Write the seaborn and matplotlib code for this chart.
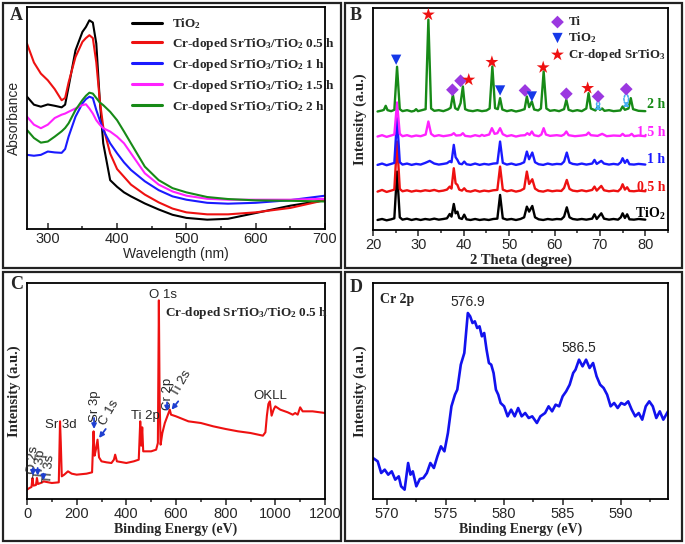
import numpy as np
import pandas as pd
import seaborn as sns
import matplotlib.pyplot as plt
from matplotlib.patches import Rectangle
from matplotlib.ticker import MultipleLocator

# ---------------- A: UV-vis absorbance ----------------
wl = [270, 280, 290, 300, 310, 320, 325, 330, 340, 350, 355, 360, 365, 370, 375,
      380, 390, 400, 410, 420, 440, 460, 480, 500, 530, 560, 600, 650, 700]
abs_tio2 = [0.596, 0.56, 0.551, 0.561, 0.555, 0.548, 0.56, 0.64, 0.805, 0.888, 0.91, 0.94, 0.93, 0.835, 0.58,
            0.386, 0.22, 0.19, 0.165, 0.147, 0.115, 0.088, 0.064, 0.05, 0.042, 0.046, 0.072, 0.105, 0.13]
abs_05h = [0.835, 0.75, 0.70, 0.67, 0.63, 0.58, 0.59, 0.66, 0.775, 0.843, 0.86, 0.873, 0.86, 0.75, 0.58,
           0.46, 0.34, 0.27, 0.235, 0.20, 0.155, 0.12, 0.092, 0.075, 0.066, 0.066, 0.075, 0.095, 0.13]
abs_1h = [0.334, 0.33, 0.334, 0.349, 0.345, 0.343, 0.36, 0.416, 0.506, 0.566, 0.585, 0.596, 0.59, 0.536, 0.49,
          0.446, 0.386, 0.341, 0.30, 0.266, 0.215, 0.175, 0.147, 0.132, 0.118, 0.114, 0.118, 0.13, 0.15]
abs_15h = [0.506, 0.47, 0.454, 0.47, 0.50, 0.515, 0.52, 0.528, 0.543, 0.558, 0.562, 0.543, 0.52, 0.49, 0.47,
           0.454, 0.439, 0.416, 0.386, 0.341, 0.251, 0.20, 0.169, 0.15, 0.136, 0.132, 0.132, 0.132, 0.136]
abs_2h = [0.446, 0.41, 0.389, 0.394, 0.416, 0.44, 0.455, 0.476, 0.536, 0.581, 0.60, 0.614, 0.61, 0.59, 0.57,
          0.558, 0.528, 0.49, 0.439, 0.386, 0.281, 0.22, 0.184, 0.165, 0.144, 0.135, 0.129, 0.127, 0.124]

# ---------------- B: XRD patterns ----------------
tt_tio2 = [21, 22, 23, 24, 24.7, 25.3, 25.9, 26.5, 27.5, 28.5, 29.5, 30.5, 31.5, 32.5, 33.5, 34.5, 35.5, 36.3,
           36.9, 37.3, 37.8, 38.2, 38.6, 39.0, 39.6, 40.1, 40.6, 41.5, 42.5, 43.5, 44.5, 45.5, 46.5, 47.4, 48.0,
           48.6, 49.5, 50.5, 51.5, 52.5, 53.3, 53.9, 54.4, 55.1, 55.7, 56.5, 57.5, 58.5, 59.5, 60.5, 61.5, 62.1,
           62.7, 63.3, 64, 65, 66, 67, 68.3, 68.8, 69.3, 70.3, 70.9, 72, 73, 74, 74.6, 75.0, 75.5, 76.0, 76.5,
           77.5, 78.5, 80]
int_tio2 = [30, 33, 29, 32, 35, 175, 38, 31, 34, 30, 33, 30, 33, 31, 34, 31, 33, 35,
            48, 40, 78, 50, 55, 36, 33, 46, 32, 30, 33, 30, 32, 30, 33, 34, 105,
            35, 31, 33, 30, 33, 38, 70, 55, 72, 38, 32, 30, 33, 31, 33, 32, 40,
            68, 38, 33, 31, 33, 31, 34, 47, 33, 50, 34, 31, 33, 31, 38, 50, 36, 47, 32,
            31, 33, 31]
int_05h = [115, 120, 114, 118, 121, 265, 123, 116, 119, 115, 118, 116, 119, 117, 120, 116, 118, 121,
           130, 124, 185, 140, 135, 121, 118, 125, 117, 115, 119, 115, 118, 116, 119, 120, 190,
           121, 116, 119, 115, 118, 124, 175, 138, 152, 124, 117, 115, 119, 116, 118, 117, 126,
           150, 123, 118, 116, 119, 116, 120, 130, 118, 132, 119, 116, 118, 116, 124, 137, 121, 128, 117,
           116, 118, 116]
int_1h = [195, 199, 194, 198, 201, 335, 203, 196, 199, 195, 198, 196, 201, 207, 199, 196, 198, 200,
          206, 203, 255, 218, 210, 199, 197, 205, 197, 195, 199, 195, 198, 196, 199, 200, 265,
          201, 196, 199, 195, 198, 203, 235, 212, 232, 203, 197, 195, 199, 196, 198, 197, 205,
          232, 202, 198, 196, 199, 196, 199, 210, 198, 207, 199, 196, 198, 196, 203, 215, 201, 210, 197,
          196, 198, 196]
tt_15h = [21, 22, 23, 24, 24.7, 25.3, 25.9, 26.5, 27.5, 28.5, 29.5, 30.5, 31.6, 32.2, 32.8, 33.5, 34.5, 35.5,
          36.5, 37.3, 37.8, 38.3, 39.3, 39.8, 40.3, 41.5, 42.5, 43.5, 44.0, 44.5, 45.6, 46.2, 46.8, 47.4, 48.0,
          48.6, 49.5, 50.5, 51.5, 52.5, 53.5, 54.0, 54.5, 55.0, 55.5, 56.5, 57.1, 57.6, 58.1, 59, 60.5, 61.5,
          62.1, 62.6, 63.1, 64.5, 66, 67.0, 67.5, 68.0, 69.5, 70.5, 71.5, 73, 74.5, 75.0, 75.5, 76.5, 77.0,
          77.5, 78.5, 80]
int_15h = [280, 284, 279, 283, 286, 382, 288, 281, 284, 280, 283, 281, 286, 325, 288, 281, 284, 281,
           283, 285, 290, 283, 284, 290, 282, 280, 284, 281, 285, 282, 286, 305, 288, 290, 305,
           287, 281, 284, 280, 283, 284, 290, 285, 295, 284, 281, 286, 305, 286, 282, 284, 282,
           286, 295, 284, 281, 283, 285, 292, 284, 282, 288, 281, 283, 282, 288, 282, 283, 288,
           281, 283, 281]
tt_2h = [21, 22.0, 22.4, 22.8, 23.2, 24, 24.7, 25.3, 25.9, 26.5, 27.5, 28.5, 29.1, 29.5, 29.9, 30.5, 31.6,
         32.2, 32.8, 33.5, 34.5, 35.5, 36.5, 37.1, 37.6, 38.1, 38.7, 39.3, 39.8, 40.3, 41.0, 42, 43, 44, 45,
         45.7, 46.3, 46.9, 47.5, 48.0, 48.5, 49.5, 50.5, 51.5, 52.5, 53.4, 53.9, 54.4, 55.0, 55.5, 56.4, 57.0,
         57.6, 58.2, 59, 60, 61, 62.1, 62.6, 63.1, 64, 65, 66, 67.0, 67.5, 68.0, 69.0, 69.6, 70.0, 70.5, 71.0,
         72, 73, 74.5, 75.0, 75.5, 76.3, 76.8, 77.3, 78.5, 80]
int_2h = [355, 358, 360, 372, 359, 356, 360, 489, 362, 356, 359, 355, 357, 362, 356, 358, 362,
          630, 364, 357, 359, 356, 361, 366, 405, 365, 360, 380, 430, 362, 358, 356, 359, 356, 358,
          364, 490, 365, 362, 395, 361, 356, 359, 355, 358, 362, 400, 368, 385, 361, 358, 364,
          475, 364, 357, 359, 356, 362, 390, 360, 356, 359, 356, 364, 410, 364, 358, 370, 360, 364, 357,
          359, 356, 358, 370, 360, 364, 395, 362, 357, 356]
tio2_mark = ([25.1, 48.0, 55.0], [510, 418, 400])
ti_mark = ([37.5, 39.3, 53.5, 62.6, 69.6, 75.8], [420, 447, 418, 408, 400, 422])
srtio3_mark = ([32.2, 41.1, 46.2, 57.5, 67.3], [645, 450, 503, 487, 425])

# ---------------- C: XPS survey ----------------
be_survey = [0, 10, 18, 22, 26, 36, 40, 44, 55, 62, 66, 100, 128, 133, 136, 140, 150, 165, 180, 200, 240, 262,
             268, 272, 278, 284, 290, 300, 320, 340, 350, 355, 362, 400, 430, 450, 456, 460, 464, 468, 480, 500,
             520, 527, 531, 534, 538, 545, 555, 565, 575, 580, 600, 650, 700, 750, 800, 850, 900, 950, 960,
             966, 972, 978, 985, 993, 1000, 1020, 1050, 1070, 1080, 1090, 1100, 1110, 1150, 1200]
int_survey = [28, 33, 36, 63, 40, 42, 63, 45, 48, 50, 53, 48, 50, 233, 170, 68, 73, 83, 76, 73, 76, 80,
              203, 130, 150, 178, 125, 113, 110, 108, 118, 133, 113, 108, 113, 118, 233, 160, 215, 143, 143, 143,
              148, 168, 596, 300, 163, 198, 228, 248, 268, 253, 248, 233, 228, 218, 210, 203, 198, 190, 200,
              250, 285, 293, 250, 268, 278, 268, 260, 253, 258, 253, 275, 263, 263, 258]

# ---------------- D: Cr 2p ----------------
be_cr = [568.8, 569.2, 569.5, 569.8, 570.1, 570.4, 570.7, 571.0, 571.2, 571.5, 571.8, 572.0, 572.2, 572.5,
         572.8, 573.1, 573.4, 573.7, 574.0, 574.3, 574.6, 574.9, 575.2, 575.5, 575.8, 576.0, 576.3, 576.6,
         576.8, 576.9, 577.1, 577.3, 577.5, 577.7, 577.9, 578.1, 578.3, 578.5, 578.7, 578.9, 579.1, 579.3,
         579.5, 579.7, 580.0, 580.3, 580.6, 580.9, 581.2, 581.5, 581.8, 582.1, 582.4, 582.8, 583.1, 583.5,
         583.8, 584.1, 584.4, 584.7, 585.0, 585.3, 585.6, 585.9, 586.1, 586.4, 586.7, 587.0, 587.3, 587.6,
         587.9, 588.2, 588.5, 588.8, 589.1, 589.4, 589.7, 590.0, 590.3, 590.6, 590.9, 591.2, 591.5, 591.8,
         592.1, 592.4, 592.7, 593.0, 593.3, 593.6, 594.0]
int_cr = [123, 113, 78, 88, 73, 83, 58, 68, 38, 28, 108, 73, 83, 38,
          60, 63, 78, 108, 93, 128, 158, 143, 198, 278, 313, 328, 403, 438,
          518, 558, 548, 528, 533, 513, 518, 488, 498, 448, 408, 403, 378, 328,
          313, 288, 278, 248, 268, 248, 273, 248, 258, 243, 248, 228, 248, 258,
          278, 263, 283, 278, 308, 323, 343, 378, 388, 418, 398, 418, 393, 408,
          368, 343, 333, 313, 278, 288, 273, 288, 283, 293, 268, 248, 258, 238,
          278, 293, 278, 243, 263, 238, 263]

sns.set_style('ticks')
plt.rcParams['font.family'] = ['Liberation Sans', 'DejaVu Sans']
plt.rcParams['mathtext.fontset'] = 'custom'
plt.rcParams['mathtext.rm'] = 'Liberation Serif:bold'
plt.rcParams['mathtext.it'] = 'Liberation Serif:bold'
plt.rcParams['axes.linewidth'] = 1.3
plt.rcParams['axes.edgecolor'] = 'black'

W, H = 685, 544
fig = plt.figure(figsize=(6.85, 5.44), dpi=100)


def box(l, t, r, b):
    return [l / W, 1 - b / H, (r - l) / W, (b - t) / H]


serif = dict(family=['Liberation Serif', 'DejaVu Serif'], weight='bold')

for (l, t, r, b) in [(3, 3, 341, 268), (345, 3, 682, 268), (3, 272, 341, 541), (345, 272, 682, 541)]:
    fig.add_artist(Rectangle((l / W, 1 - b / H), (r - l) / W, (b - t) / H, transform=fig.transFigure,
                             fill=False, lw=1.6, ec='#222222'))
for lab, x, y in [('A', 10, 20), ('B', 350, 20), ('C', 10, 289), ('D', 350, 292)]:
    fig.text(x / W, 1 - y / H, lab, fontsize=13, va='baseline', **serif)


def style(ax, tick_dir):
    ax.set_yticks([])
    ax.tick_params(axis='x', which='both', direction=tick_dir, labelsize=10.5, width=1.1, pad=2)
    ax.tick_params(axis='x', which='major', length=4)
    ax.tick_params(axis='x', which='minor', length=2.5)
    for s in ax.spines.values():
        s.set_visible(True)
        s.set_color('black')


# ---- A ----
axA = fig.add_axes(box(27, 7, 325, 229))
a_series = [(abs_tio2, 'TiO$_2$', 'black'),
            (abs_05h, 'Cr-doped SrTiO$_3$/TiO$_2$ 0.5 h', '#ee1111'),
            (abs_1h, 'Cr-doped SrTiO$_3$/TiO$_2$ 1 h', '#1a1aff'),
            (abs_15h, 'Cr-doped SrTiO$_3$/TiO$_2$ 1.5 h', '#ff22ff'),
            (abs_2h, 'Cr-doped SrTiO$_3$/TiO$_2$ 2 h', '#178a17')]
for vals, lab, col in a_series:
    sns.lineplot(x=wl, y=vals, ax=axA, color=col, lw=1.5, label=lab, sort=False)
axA.set_xlim(270, 700)
axA.set_ylim(0, 1)
axA.xaxis.set_major_locator(MultipleLocator(100))
axA.xaxis.set_minor_locator(MultipleLocator(50))
style(axA, 'in')
axA.set_xlabel('Wavelength (nm)', fontsize=10, labelpad=1)
axA.set_ylabel('Absorbance', fontsize=10, labelpad=4)
axA.legend(loc='upper left', bbox_to_anchor=(0.32, 1.0), frameon=False, handlelength=2.3,
           labelspacing=0.38, handletextpad=0.8, borderaxespad=0.3,
           prop=dict(family='Liberation Serif', weight='bold', size=9.5))
for h in axA.get_legend().get_lines():
    h.set_linewidth(2.2)

# ---- B ----
axB = fig.add_axes(box(373, 8, 668, 230))
b_series = [(tt_tio2, int_tio2, 'black', 'TiO$_2$', 47),
            (tt_tio2, int_05h, '#ee1111', '0.5 h', 128),
            (tt_tio2, int_1h, '#1a1aff', '1 h', 210),
            (tt_15h, int_15h, '#ff22ff', '1.5 h', 293),
            (tt_2h, int_2h, '#178a17', '2 h', 375)]
for xs, ys, col, lab, ly in b_series:
    sns.lineplot(x=xs, y=ys, ax=axB, color=col, lw=1.7, sort=False)
    axB.text(84.4, ly, lab, color=col, ha='right', va='center', fontsize=10, **serif)
sns.scatterplot(x=ti_mark[0], y=ti_mark[1], ax=axB, marker='D', s=42, color='#9b38e0', edgecolor='none',
                label='Ti', zorder=5)
sns.scatterplot(x=tio2_mark[0], y=tio2_mark[1], ax=axB, marker='v', s=55, color='#1538e8', edgecolor='none',
                label='TiO$_2$', zorder=5)
sns.scatterplot(x=srtio3_mark[0], y=srtio3_mark[1], ax=axB, marker='*', s=95, color='#ee1111',
                edgecolor='none', label='Cr-doped SrTiO$_3$', zorder=5)
for xc, yc, dx, yl in [(69.6, 390, 0.6, 360), (75.8, 412, 0.75, 368)]:
    for sgn in (-1, 1):
        axB.annotate('', xy=(xc + sgn * dx, yl), xytext=(xc, yc),
                     arrowprops=dict(arrowstyle='->', color='#45aef0', lw=1.2, ls=(0, (1, 1)),
                                     shrinkA=0, shrinkB=0, mutation_scale=6,
                                     connectionstyle='arc3,rad=%.2f' % (0.5 * sgn)))
axB.set_xlim(20, 85)
axB.set_ylim(0, 665)
axB.xaxis.set_major_locator(MultipleLocator(10))
axB.xaxis.set_minor_locator(MultipleLocator(5))
style(axB, 'out')
axB.set_xlabel('2 Theta (degree)', fontsize=10.5, labelpad=1, **serif)
axB.set_ylabel('Intensity (a.u.)', fontsize=10.5, labelpad=4, **serif)
axB.legend(loc='upper left', bbox_to_anchor=(0.575, 1.0), frameon=False, handlelength=1.0,
           handletextpad=0.35, labelspacing=0.15, borderaxespad=0.25,
           prop=dict(family='Liberation Serif', weight='bold', size=9.3))

# ---- C ----
axC = fig.add_axes(box(27, 283, 325, 499))
sns.lineplot(x=be_survey, y=int_survey, ax=axC, color='#ee1111', lw=1.5, sort=False)
axC.set_xlim(0, 1200)
axC.set_ylim(0, 648)
axC.xaxis.set_major_locator(MultipleLocator(200))
axC.xaxis.set_minor_locator(MultipleLocator(100))
style(axC, 'out')
axC.set_xlabel('Binding Energy (eV)', fontsize=10, labelpad=1, **serif)
axC.set_ylabel('Intensity (a.u.)', fontsize=10.5, labelpad=4, **serif)
c_labels = [('O 1s', 548, 612, 0), ('Sr 3d', 138, 221, 0), ('Sr 3p', 273, 278, 90), ('C 1s', 333, 258, 60),
            ('Ti 2p', 478, 248, 0), ('Cr 2p', 568, 316, 90), ('Ti 2s', 622, 348, 60), ('OKLL', 981, 310, 0),
            ('O 2s', 24, 118, 85), ('Ti 3p', 55, 106, 85), ('Ti 3s', 90, 90, 85)]
for txt, x, y, rot in c_labels:
    axC.text(x, y, txt, fontsize=9.5, ha='center', va='center', rotation=rot)
axC.text(555, 558, 'Cr-doped SrTiO$_3$/TiO$_2$ 0.5 h', fontsize=9.5, ha='left', va='center', **serif)
c_arrows = [((270, 243), (270, 210)), ((317, 210), (290, 183)), ((564, 290), (564, 263)),
            ((609, 293), (582, 268)), ((24, 93), (24, 70)), ((43, 93), (43, 70)), ((66, 76), (66, 56))]
for start, end in c_arrows:
    axC.annotate('', xy=end, xytext=start,
                 arrowprops=dict(arrowstyle='-|>', color='#1f3fd0', lw=1.3, mutation_scale=7,
                                 shrinkA=0, shrinkB=0))

# ---- D ----
axD = fig.add_axes(box(373, 283, 668, 499))
sns.lineplot(x=be_cr, y=int_cr, ax=axD, color='#1212ee', lw=1.9, sort=False)
axD.set_xlim(568.8, 594)
axD.set_ylim(0, 648)
axD.xaxis.set_major_locator(MultipleLocator(5))
axD.xaxis.set_minor_locator(MultipleLocator(2.5))
style(axD, 'out')
axD.set_xlabel('Binding Energy (eV)', fontsize=10, labelpad=1, **serif)
axD.set_ylabel('Intensity (a.u.)', fontsize=10.5, labelpad=4, **serif)
axD.text(569.4, 598, 'Cr 2p', fontsize=10, ha='left', va='center', **serif)
axD.text(576.9, 590, '576.9', fontsize=10, ha='center', va='center')
axD.text(586.4, 452, '586.5', fontsize=10, ha='center', va='center')

fig.savefig('out.png', dpi=100)
